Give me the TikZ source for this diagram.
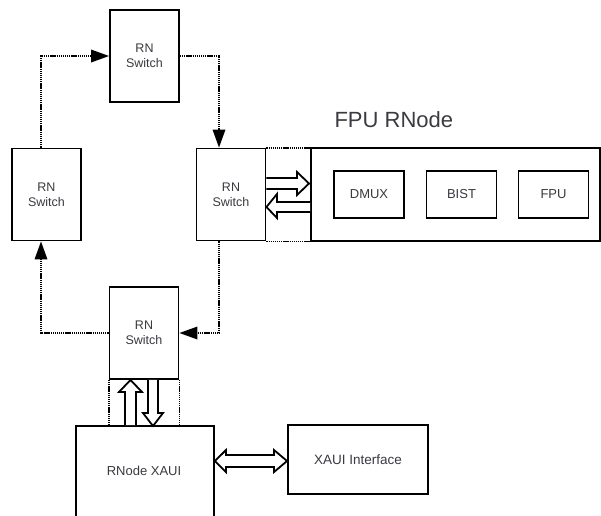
\documentclass[tikz,border=0pt]{standalone}
\usepackage{fontspec}
\setmainfont{Liberation Sans}
\usetikzlibrary{arrows.meta,calc}
\definecolor{txt}{HTML}{3A3A40}
\begin{document}
\begin{tikzpicture}[x=1pt,y=-1pt,
  box/.style={draw,line width=1.9pt,fill=white,inner sep=0pt,text=txt,font=\fontsize{12.5}{15}\selectfont,align=center},
  sw/.style={box,minimum width=69pt,minimum height=92pt},
  inner/.style={box,minimum width=70pt,minimum height=47pt,font=\fontsize{13}{15}\selectfont},
  flow/.style={line width=1.9pt,dash pattern=on 1.3pt off 0.8pt,-{Triangle[length=18pt,width=13pt,line width=0pt]}},
  dots/.style={line width=1.9pt,dash pattern=on 1.3pt off 0.8pt},
  blk/.style={draw,line width=1.8pt,fill=white,line join=miter}]
\useasboundingbox (0,0) rectangle (601,515);
% boxes
\node[sw] (top) at (144.5,56) {RN\\Switch};
\node[sw] (left) at (46.5,194.5) {RN\\Switch};
\node[sw] (mid) at (231,194.5) {RN\\Switch};
\node[sw] (bot) at (144,333) {RN\\Switch};
\node[box,minimum width=289pt,minimum height=93pt] (fpunode) at (455.5,194.5) {};
\node[text=txt,font=\fontsize{22}{24}\selectfont,anchor=base west] (fpulabel) at (331,127) {FPU RNode};
\node[inner] (dmux) at (369,194.5) {DMUX};
\node[inner] (bist) at (461.5,194.5) {BIST};
\node[inner] (fpu) at (553.5,194.5) {FPU};
\node[box,minimum width=138pt,minimum height=95pt,anchor=north west] (xaui) at (75,425) {};
\node[text=txt,font=\fontsize{13}{15}\selectfont] (xauilabel) at (144,471) {RNode XAUI};
\node[box,minimum width=140pt,minimum height=69pt,font=\fontsize{13.5}{15}\selectfont] (xif) at (358,459.5) {XAUI Interface};
% ring coordinates
\coordinate (xl) at (41,0);
\coordinate (xr) at (219,0);
\draw[flow] (left.north -| xl) |- (top.west);
\draw[flow] (top.east) -| (xr |- mid.north);
\draw[flow] (xr |- mid.south) |- (bot.east);
\draw[flow] (bot.west) -| (xl |- left.south);
% dotted links
\draw[dots] (mid.north east) -- (mid.north east -| fpunode.west);
\draw[dots] (mid.south east) -- (mid.south east -| fpunode.west);
\draw[dots] (bot.south west) -- (bot.south west |- xaui.north);
\draw[dots] (bot.south east) -- (bot.south east |- xaui.north);
% block arrows mid <-> fpunode
\draw[blk] (mid.east |- 0,178) -- (297,178) -- (297,172) -- (309,183.5) -- (297,195) -- (297,189) -- (mid.east |- 0,189);
\draw[blk] (fpunode.west |- 0,202) -- (277,202) -- (277,194) -- (mid.east |- 0,207) -- (277,218) -- (277,212) -- (fpunode.west |- 0,212);
% block arrows bot <-> xaui
\draw[blk] (125,425) -- (125,392) -- (119,392) -- (bot.south -| 130.5,0) -- (142,392) -- (136,392) -- (136,425);
\draw[blk] (bot.south -| 148,0) -- (148,413) -- (143,413) -- (153,426) -- (163,413) -- (158,413) -- (bot.south -| 158,0);
% double arrow xaui <-> xif
\draw[blk] (xaui.east |- 0,461) -- (226,450) -- (226,455) -- (274,455) -- (274,450) -- (xif.west |- 0,461) -- (274,472) -- (274,467) -- (226,467) -- (226,472) -- cycle;
\end{tikzpicture}
\end{document}
